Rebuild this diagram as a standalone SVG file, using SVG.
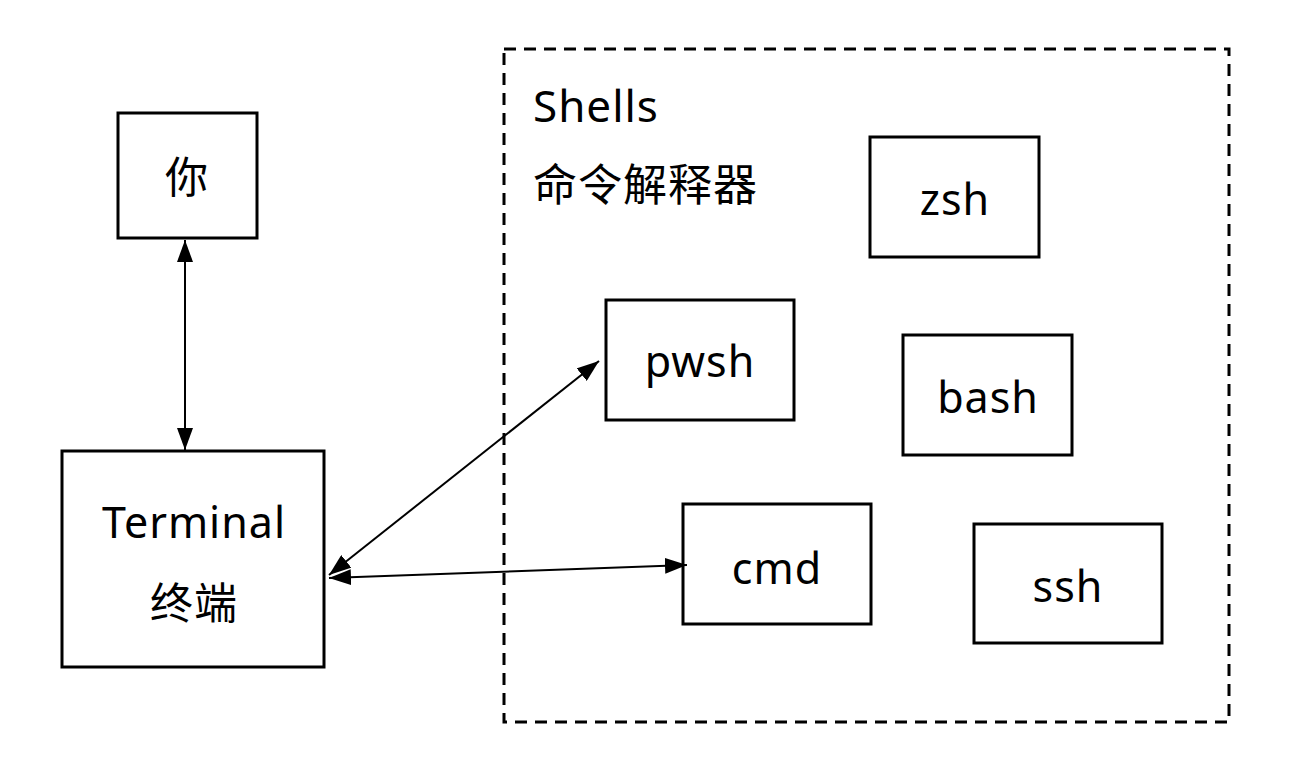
<svg xmlns="http://www.w3.org/2000/svg" width="1297" height="763" viewBox="0 0 1297 763">
<style>
.box{fill:#fff;stroke:#000;stroke-width:3}
.t{font-family:"Noto Sans","Noto Sans CJK SC",sans-serif;font-size:43px;letter-spacing:1px;fill:#000;text-anchor:middle;dominant-baseline:central}
.l{font-family:"Noto Sans","Noto Sans CJK SC",sans-serif;font-size:44px;letter-spacing:1px;fill:#000}
.c{stroke:#000;stroke-width:2;fill:none}
</style>
<defs>
<marker id="ah" viewBox="0 0 22 16" refX="22" refY="8" markerWidth="22" markerHeight="16" markerUnits="userSpaceOnUse" orient="auto-start-reverse">
<path d="M0,0 L22,8 L0,16 Z" fill="#000"/>
</marker>
</defs>
<rect width="1297" height="763" fill="#fff"/>
<g id="shells">
<rect x="504" y="49" width="725" height="673" fill="none" stroke="#000" stroke-width="3" stroke-dasharray="12,8"/>
<text class="l" x="533" y="122">Shells</text>
<text class="l" x="533" y="201">命令解释器</text>
</g>
<g id="you"><rect class="box" x="118" y="113" width="139" height="125"/><text class="t" x="187" y="176">你</text></g>
<g id="terminal"><rect class="box" x="62" y="451" width="262" height="216"/><text class="t" x="194" y="521">Terminal</text><text class="t" x="194" y="602">终端</text></g>
<g id="zsh"><rect class="box" x="870" y="137" width="169" height="120"/><text class="t" x="955" y="198">zsh</text></g>
<g id="pwsh"><rect class="box" x="606" y="300" width="188" height="120"/><text class="t" x="700" y="360">pwsh</text></g>
<g id="bash"><rect class="box" x="903" y="335" width="169" height="120"/><text class="t" x="988" y="396">bash</text></g>
<g id="cmd"><rect class="box" x="683" y="504" width="188" height="120"/><text class="t" x="777" y="567">cmd</text></g>
<g id="ssh"><rect class="box" x="974" y="524" width="188" height="119"/><text class="t" x="1068" y="585">ssh</text></g>
<g id="connectors">
<line class="c" x1="185" y1="240" x2="185" y2="450" marker-start="url(#ah)" marker-end="url(#ah)"/>
<line class="c" x1="329" y1="575" x2="599" y2="361" marker-start="url(#ah)" marker-end="url(#ah)"/>
<line class="c" x1="329" y1="578" x2="687" y2="565" marker-start="url(#ah)" marker-end="url(#ah)"/>
</g>
</svg>
